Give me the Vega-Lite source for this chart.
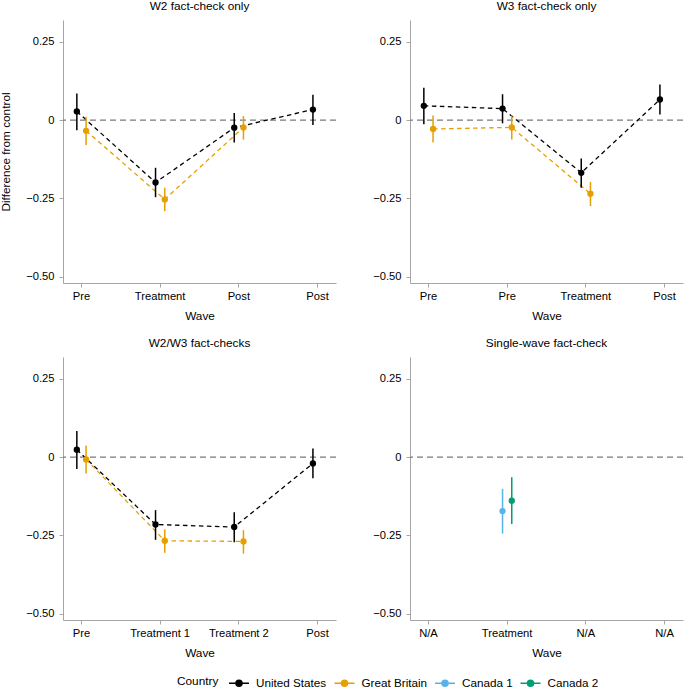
{
  "$schema": "https://vega.github.io/schema/vega-lite/v6.json",
  "padding": {"top": 0, "left": 0, "right": 4, "bottom": 0},
  "datasets": {
    "est": [
      {"panel": "W2 fact-check only", "wave": 1, "country": "United States", "est": 0.028, "lo": -0.032, "hi": 0.085},
      {"panel": "W2 fact-check only", "wave": 1, "country": "Great Britain", "est": -0.034, "lo": -0.079, "hi": 0.011},
      {"panel": "W2 fact-check only", "wave": 2, "country": "United States", "est": -0.199, "lo": -0.246, "hi": -0.152},
      {"panel": "W2 fact-check only", "wave": 2, "country": "Great Britain", "est": -0.253, "lo": -0.291, "hi": -0.216},
      {"panel": "W2 fact-check only", "wave": 3, "country": "United States", "est": -0.024, "lo": -0.071, "hi": 0.023},
      {"panel": "W2 fact-check only", "wave": 3, "country": "Great Britain", "est": -0.023, "lo": -0.062, "hi": 0.013},
      {"panel": "W2 fact-check only", "wave": 4, "country": "United States", "est": 0.034, "lo": -0.015, "hi": 0.081},
      {"panel": "W3 fact-check only", "wave": 1, "country": "United States", "est": 0.046, "lo": -0.013, "hi": 0.104},
      {"panel": "W3 fact-check only", "wave": 1, "country": "Great Britain", "est": -0.028, "lo": -0.071, "hi": 0.015},
      {"panel": "W3 fact-check only", "wave": 2, "country": "United States", "est": 0.037, "lo": -0.010, "hi": 0.083},
      {"panel": "W3 fact-check only", "wave": 2, "country": "Great Britain", "est": -0.023, "lo": -0.062, "hi": 0.015},
      {"panel": "W3 fact-check only", "wave": 3, "country": "United States", "est": -0.168, "lo": -0.216, "hi": -0.122},
      {"panel": "W3 fact-check only", "wave": 3, "country": "Great Britain", "est": -0.235, "lo": -0.274, "hi": -0.197},
      {"panel": "W3 fact-check only", "wave": 4, "country": "United States", "est": 0.066, "lo": 0.018, "hi": 0.114},
      {"panel": "W2/W3 fact-checks", "wave": 1, "country": "United States", "est": 0.024, "lo": -0.038, "hi": 0.084},
      {"panel": "W2/W3 fact-checks", "wave": 1, "country": "Great Britain", "est": -0.007, "lo": -0.052, "hi": 0.037},
      {"panel": "W2/W3 fact-checks", "wave": 2, "country": "United States", "est": -0.215, "lo": -0.264, "hi": -0.169},
      {"panel": "W2/W3 fact-checks", "wave": 2, "country": "Great Britain", "est": -0.267, "lo": -0.305, "hi": -0.230},
      {"panel": "W2/W3 fact-checks", "wave": 3, "country": "United States", "est": -0.223, "lo": -0.272, "hi": -0.176},
      {"panel": "W2/W3 fact-checks", "wave": 3, "country": "Great Britain", "est": -0.269, "lo": -0.308, "hi": -0.233},
      {"panel": "W2/W3 fact-checks", "wave": 4, "country": "United States", "est": -0.020, "lo": -0.067, "hi": 0.028},
      {"panel": "Single-wave fact-check", "wave": 2, "country": "Canada 1", "est": -0.172, "lo": -0.244, "hi": -0.101},
      {"panel": "Single-wave fact-check", "wave": 2, "country": "Canada 2", "est": -0.139, "lo": -0.213, "hi": -0.064}
    ]
  },
  "config": {
    "font": "Liberation Sans",
    "view": {"stroke": null},
    "axis": {
      "grid": false,
      "domainColor": "#a6a6a6",
      "tickColor": "#a6a6a6",
      "tickSize": 4,
      "labelColor": "#000000",
      "titleColor": "#000000",
      "labelFontSize": 11.2,
      "titleFontSize": 11.8,
      "titleFontWeight": "normal",
      "labelPadding": 3
    },
    "axisY": {"labelPadding": 5},
    "title": {"fontSize": 11.8, "fontWeight": "normal", "offset": 7.5, "color": "#000000"},
    "legend": {
      "orient": "none",
      "legendX": 114,
      "legendY": 652,
      "direction": "horizontal",
      "titleOrient": "left",
      "titleFontSize": 11.8,
      "titleFontWeight": "normal",
      "titleColor": "#000000",
      "titlePadding": 9,
      "labelFontSize": 11.7,
      "labelColor": "#000000",
      "labelOffset": 6,
      "columnPadding": 4.5,
      "symbolType": "M-1,0L1,0M0.3,0A0.3,0.3,0,1,1,-0.3,0A0.3,0.3,0,1,1,0.3,0Z",
      "symbolSize": 400,
      "symbolStrokeWidth": 1.5
    }
  },
  "columns": 2,
  "spacing": 74,
  "bounds": "flush",
  "resolve": {"scale": {"color": "shared", "xOffset": "independent", "x": "independent", "y": "independent"}},
  "concat": [
    {
      "width": 273, "height": 263,
      "title": "W2 fact-check only",
      "data": {"name": "est"},
      "transform": [{"filter": "datum.panel == 'W2 fact-check only'"}],
      "layer": [
        {"data": {"values": [{}]}, "transform": [], "mark": {"type": "rule", "color": "#7a7a7a", "strokeWidth": 1.3, "strokeDash": [6, 4]},
         "encoding": {"y": {"datum": 0, "type": "quantitative", "scale": {"domain": [-0.52, 0.32], "nice": false, "zero": false},
           "axis": {"title": "Difference from control", "titlePadding": 14, "values": [-0.5, -0.25, 0, 0.25], "labelExpr": "datum.value == 0 ? '0' : format(datum.value, '.2f')"}}}},
        {"mark": {"type": "line", "strokeWidth": 1.3, "strokeDash": [4.5, 3.5]},
         "encoding": {
           "x": {"field": "wave", "type": "ordinal", "scale": {"type": "band", "domain": [1, 2, 3, 4], "paddingInner": 0.531, "paddingOuter": 0}, "axis": {"title": "Wave", "labelAngle": 0, "titlePadding": 9, "labelExpr": "['Pre','Treatment','Post','Post'][datum.value - 1]"}},
           "xOffset": {"field": "country", "type": "nominal", "scale": {"domain": ["United States", "Great Britain"], "paddingInner": 0, "paddingOuter": 1.31}},
           "y": {"field": "est", "type": "quantitative"},
           "color": {"field": "country", "type": "nominal", "title": "Country", "scale": {"domain": ["United States", "Great Britain", "Canada 1", "Canada 2"], "range": ["#000000", "#E69F00", "#56B4E9", "#009E73"]},
             "legend": {"encode": {"symbols": {"update": {"fill": {"scale": "color", "field": "value"}, "stroke": {"scale": "color", "field": "value"}, "strokeWidth": {"value": 1.5}}}}}}}},
        {"mark": {"type": "rule", "strokeWidth": 1.5},
         "encoding": {
           "x": {"field": "wave", "type": "ordinal"},
           "xOffset": {"field": "country", "type": "nominal"},
           "y": {"field": "lo", "type": "quantitative"},
           "y2": {"field": "hi"},
           "color": {"field": "country", "type": "nominal", "title": "Country"}}},
        {"mark": {"type": "point", "filled": true, "opacity": 1, "size": 40},
         "encoding": {
           "x": {"field": "wave", "type": "ordinal"},
           "xOffset": {"field": "country", "type": "nominal"},
           "y": {"field": "est", "type": "quantitative"},
           "color": {"field": "country", "type": "nominal", "title": "Country"}}}
      ]
    },
    {
      "width": 273, "height": 263,
      "title": "W3 fact-check only",
      "data": {"name": "est"},
      "transform": [{"filter": "datum.panel == 'W3 fact-check only'"}],
      "layer": [
        {"data": {"values": [{}]}, "transform": [], "mark": {"type": "rule", "color": "#7a7a7a", "strokeWidth": 1.3, "strokeDash": [6, 4]},
         "encoding": {"y": {"datum": 0, "type": "quantitative", "scale": {"domain": [-0.52, 0.32], "nice": false, "zero": false},
           "axis": {"title": null, "values": [-0.5, -0.25, 0, 0.25], "labelExpr": "datum.value == 0 ? '0' : format(datum.value, '.2f')"}}}},
        {"mark": {"type": "line", "strokeWidth": 1.3, "strokeDash": [4.5, 3.5]},
         "encoding": {
           "x": {"field": "wave", "type": "ordinal", "scale": {"type": "band", "domain": [1, 2, 3, 4], "paddingInner": 0.531, "paddingOuter": 0}, "axis": {"title": "Wave", "labelAngle": 0, "titlePadding": 9, "labelExpr": "['Pre','Pre','Treatment','Post'][datum.value - 1]"}},
           "xOffset": {"field": "country", "type": "nominal", "scale": {"domain": ["United States", "Great Britain"], "paddingInner": 0, "paddingOuter": 1.31}},
           "y": {"field": "est", "type": "quantitative"},
           "color": {"field": "country", "type": "nominal", "title": "Country"}}},
        {"mark": {"type": "rule", "strokeWidth": 1.5},
         "encoding": {
           "x": {"field": "wave", "type": "ordinal"},
           "xOffset": {"field": "country", "type": "nominal"},
           "y": {"field": "lo", "type": "quantitative"},
           "y2": {"field": "hi"},
           "color": {"field": "country", "type": "nominal", "title": "Country"}}},
        {"mark": {"type": "point", "filled": true, "opacity": 1, "size": 40},
         "encoding": {
           "x": {"field": "wave", "type": "ordinal"},
           "xOffset": {"field": "country", "type": "nominal"},
           "y": {"field": "est", "type": "quantitative"},
           "color": {"field": "country", "type": "nominal", "title": "Country"}}}
      ]
    },
    {
      "width": 273, "height": 263,
      "title": "W2/W3 fact-checks",
      "data": {"name": "est"},
      "transform": [{"filter": "datum.panel == 'W2/W3 fact-checks'"}],
      "layer": [
        {"data": {"values": [{}]}, "transform": [], "mark": {"type": "rule", "color": "#7a7a7a", "strokeWidth": 1.3, "strokeDash": [6, 4]},
         "encoding": {"y": {"datum": 0, "type": "quantitative", "scale": {"domain": [-0.52, 0.32], "nice": false, "zero": false},
           "axis": {"title": null, "values": [-0.5, -0.25, 0, 0.25], "labelExpr": "datum.value == 0 ? '0' : format(datum.value, '.2f')"}}}},
        {"mark": {"type": "line", "strokeWidth": 1.3, "strokeDash": [4.5, 3.5]},
         "encoding": {
           "x": {"field": "wave", "type": "ordinal", "scale": {"type": "band", "domain": [1, 2, 3, 4], "paddingInner": 0.531, "paddingOuter": 0}, "axis": {"title": "Wave", "labelAngle": 0, "titlePadding": 9, "labelExpr": "['Pre','Treatment 1','Treatment 2','Post'][datum.value - 1]"}},
           "xOffset": {"field": "country", "type": "nominal", "scale": {"domain": ["United States", "Great Britain"], "paddingInner": 0, "paddingOuter": 1.31}},
           "y": {"field": "est", "type": "quantitative"},
           "color": {"field": "country", "type": "nominal", "title": "Country"}}},
        {"mark": {"type": "rule", "strokeWidth": 1.5},
         "encoding": {
           "x": {"field": "wave", "type": "ordinal"},
           "xOffset": {"field": "country", "type": "nominal"},
           "y": {"field": "lo", "type": "quantitative"},
           "y2": {"field": "hi"},
           "color": {"field": "country", "type": "nominal", "title": "Country"}}},
        {"mark": {"type": "point", "filled": true, "opacity": 1, "size": 40},
         "encoding": {
           "x": {"field": "wave", "type": "ordinal"},
           "xOffset": {"field": "country", "type": "nominal"},
           "y": {"field": "est", "type": "quantitative"},
           "color": {"field": "country", "type": "nominal", "title": "Country"}}}
      ]
    },
    {
      "width": 273, "height": 263,
      "title": "Single-wave fact-check",
      "data": {"name": "est"},
      "transform": [{"filter": "datum.panel == 'Single-wave fact-check'"}],
      "layer": [
        {"data": {"values": [{}]}, "transform": [], "mark": {"type": "rule", "color": "#7a7a7a", "strokeWidth": 1.3, "strokeDash": [6, 4]},
         "encoding": {"y": {"datum": 0, "type": "quantitative", "scale": {"domain": [-0.52, 0.32], "nice": false, "zero": false},
           "axis": {"title": null, "values": [-0.5, -0.25, 0, 0.25], "labelExpr": "datum.value == 0 ? '0' : format(datum.value, '.2f')"}}}},
        {"mark": {"type": "rule", "strokeWidth": 1.5},
         "encoding": {
           "x": {"field": "wave", "type": "ordinal", "scale": {"type": "band", "domain": [1, 2, 3, 4], "paddingInner": 0.531, "paddingOuter": 0}, "axis": {"title": "Wave", "labelAngle": 0, "titlePadding": 9, "labelExpr": "['N/A','Treatment','N/A','N/A'][datum.value - 1]"}},
           "xOffset": {"field": "country", "type": "nominal", "scale": {"domain": ["Canada 1", "Canada 2"], "paddingInner": 0, "paddingOuter": 1.31}},
           "y": {"field": "lo", "type": "quantitative"},
           "y2": {"field": "hi"},
           "color": {"field": "country", "type": "nominal", "title": "Country"}}},
        {"mark": {"type": "point", "filled": true, "opacity": 1, "size": 40},
         "encoding": {
           "x": {"field": "wave", "type": "ordinal"},
           "xOffset": {"field": "country", "type": "nominal"},
           "y": {"field": "est", "type": "quantitative"},
           "color": {"field": "country", "type": "nominal", "title": "Country"}}}
      ]
    }
  ]
}
